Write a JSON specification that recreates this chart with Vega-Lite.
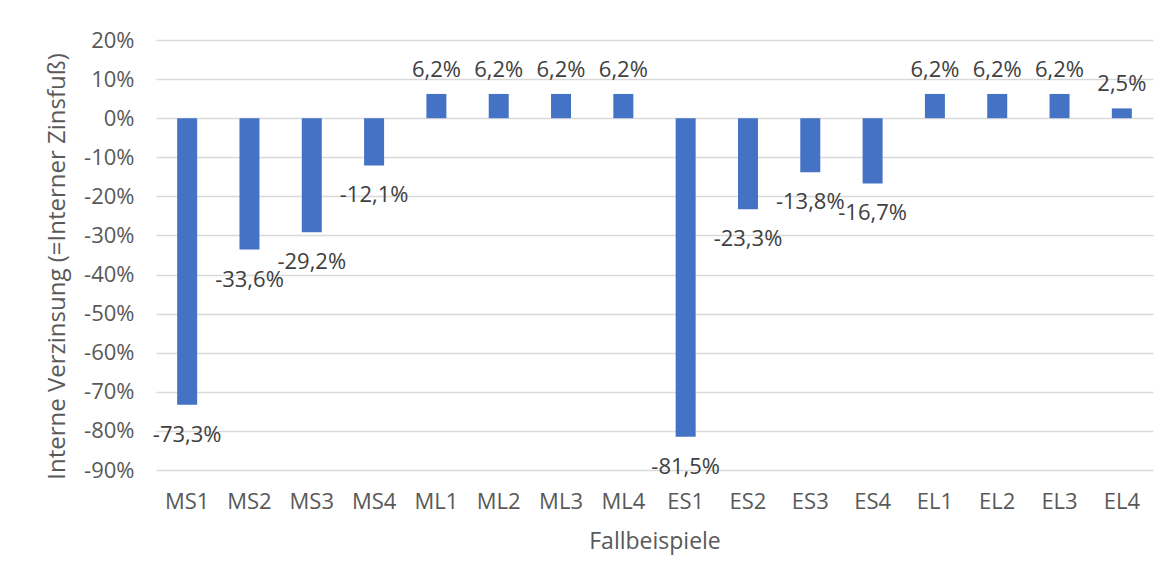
{
  "$schema": "https://vega.github.io/schema/vega-lite/v6.json",
  "width": 997,
  "height": 430,
  "autosize": {"type": "none"},
  "padding": {"left": 156, "top": 40, "right": 23, "bottom": 113},
  "background": "white",
  "config": {"view": {"stroke": null}, "font": "Open Sans"},
  "data": {
    "values": [
      {"case": "MS1", "v": -0.733, "label": "-73,3%"},
      {"case": "MS2", "v": -0.336, "label": "-33,6%"},
      {"case": "MS3", "v": -0.292, "label": "-29,2%"},
      {"case": "MS4", "v": -0.121, "label": "-12,1%"},
      {"case": "ML1", "v": 0.062, "label": "6,2%"},
      {"case": "ML2", "v": 0.062, "label": "6,2%"},
      {"case": "ML3", "v": 0.062, "label": "6,2%"},
      {"case": "ML4", "v": 0.062, "label": "6,2%"},
      {"case": "ES1", "v": -0.815, "label": "-81,5%"},
      {"case": "ES2", "v": -0.233, "label": "-23,3%"},
      {"case": "ES3", "v": -0.138, "label": "-13,8%"},
      {"case": "ES4", "v": -0.167, "label": "-16,7%"},
      {"case": "EL1", "v": 0.062, "label": "6,2%"},
      {"case": "EL2", "v": 0.062, "label": "6,2%"},
      {"case": "EL3", "v": 0.062, "label": "6,2%"},
      {"case": "EL4", "v": 0.025, "label": "2,5%"}
    ]
  },
  "encoding": {
    "x": {
      "field": "case",
      "type": "nominal",
      "sort": null,
      "scale": {"paddingInner": 0, "paddingOuter": 0},
      "axis": {
        "title": "Fallbeispiele",
        "labelAngle": 0,
        "ticks": false,
        "domain": false,
        "labelFontSize": 22,
        "labelColor": "#595959",
        "labelPadding": 21,
        "titleFontSize": 23,
        "titleFontWeight": "normal",
        "titleColor": "#595959",
        "titleY": 71,
        "titleBaseline": "middle"
      }
    },
    "y": {
      "field": "v",
      "type": "quantitative",
      "scale": {"domain": [-0.9, 0.2], "nice": false, "zero": false},
      "axis": {
        "title": "Interne Verzinsung (=Interner Zinsfuß)",
        "values": [-0.9, -0.8, -0.7, -0.6, -0.5, -0.4, -0.3, -0.2, -0.1, 0, 0.1, 0.2],
        "labelExpr": "round(datum.value*100) + '%'",
        "grid": true,
        "gridColor": "#d9d9d9",
        "gridWidth": 1.5,
        "domain": false,
        "ticks": false,
        "labelPadding": 22,
        "labelFontSize": 22,
        "labelColor": "#595959",
        "titleFontSize": 24,
        "titleFontWeight": "normal",
        "titleColor": "#595959",
        "titleX": -99,
        "titleY": 226,
        "titleBaseline": "middle",
        "titleAlign": "center"
      }
    }
  },
  "layer": [
    {
      "mark": {"type": "bar", "size": 20, "color": "#4472C4"},
      "encoding": {"y2": {"datum": 0}}
    },
    {
      "transform": [{"filter": "datum.v >= 0"}],
      "mark": {"type": "text", "baseline": "alphabetic", "dy": -17, "fontSize": 22, "color": "#404040"},
      "encoding": {"text": {"field": "label"}}
    },
    {
      "transform": [{"filter": "datum.v < 0"}],
      "mark": {"type": "text", "baseline": "alphabetic", "dy": 37, "fontSize": 22, "color": "#404040"},
      "encoding": {"text": {"field": "label"}}
    }
  ]
}
